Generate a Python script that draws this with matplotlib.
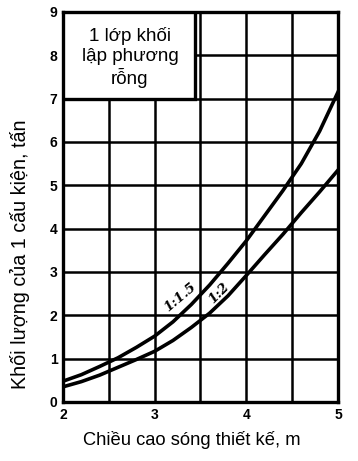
import matplotlib
matplotlib.use("Agg")
import matplotlib.pyplot as plt
from matplotlib.patches import Rectangle

# wave height (m), read every 0.2 m
wave_h = [2.0, 2.2, 2.4, 2.6, 2.8, 3.0, 3.2, 3.4, 3.6, 3.8, 4.0, 4.2, 4.4, 4.6, 4.8, 5.0]
# block weight (t) for slope 1:1.5 and 1:2
mass_15 = [0.48, 0.63, 0.82, 1.02, 1.26, 1.52, 1.85, 2.25, 2.7, 3.2,
           3.72, 4.3, 4.88, 5.5, 6.25, 7.15]
mass_2 = [0.35, 0.47, 0.62, 0.8, 0.98, 1.17, 1.42, 1.72, 2.05, 2.45,
          2.92, 3.4, 3.87, 4.37, 4.85, 5.35]

x_ticks = [2, 3, 4, 5]
y_ticks = list(range(0, 10))
box_text = "1 lớp khối\nlập phương\nrỗng"

plt.rcParams["font.family"] = ["Liberation Sans", "DejaVu Sans"]

fig = plt.figure(figsize=(3.58, 4.61), dpi=100)
ax = fig.add_axes([0.176, 0.128, 0.768, 0.846])

ax.set_xlim(2, 5)
ax.set_ylim(0, 9)

# grid: every 0.5 m and every 1 t
for gx in [2.5, 3.0, 3.5, 4.0, 4.5]:
    ax.axvline(gx, color="black", lw=1.8, zorder=1)
for gy in range(1, 9):
    ax.axhline(gy, color="black", lw=1.8, zorder=1)

ax.plot(wave_h, mass_15, color="black", lw=2.6, zorder=3,
        solid_joinstyle="round")
ax.plot(wave_h, mass_2, color="black", lw=2.6, zorder=3,
        solid_joinstyle="round")

# caption box in the top-left corner hides the grid
ax.add_patch(Rectangle((2.0, 7.0), 1.44, 2.0, facecolor="white",
                       edgecolor="black", lw=2.4, zorder=4))
ax.text(2.73, 7.95, box_text, ha="center", va="center", fontsize=13.5,
        linespacing=1.2, zorder=5)

ax.text(3.28, 2.42, "1:1.5", rotation=40, ha="center", va="center",
        fontsize=9.5, fontstyle="italic", fontweight="bold",
        family="DejaVu Serif", zorder=5)
ax.text(3.70, 2.52, "1:2", rotation=45, ha="center", va="center",
        fontsize=9.5, fontstyle="italic", fontweight="bold",
        family="DejaVu Serif", zorder=5)

ax.set_xticks(x_ticks)
ax.set_yticks(y_ticks)
ax.tick_params(length=0, labelsize=10, pad=4)
for lab in ax.get_xticklabels() + ax.get_yticklabels():
    lab.set_fontweight("bold")
for s in ax.spines.values():
    s.set_linewidth(2.4)

fig.text(192 / 358, 1 - 440 / 461, "Chiều cao sóng thiết kế, m",
         fontsize=13.2, ha="center", va="center")
fig.text(20 / 358, 1 - 254 / 461, "Khối lượng của 1 cấu kiện, tấn",
         fontsize=14.2, rotation=90, ha="center", va="center")

fig.savefig("out.png", dpi=100)
